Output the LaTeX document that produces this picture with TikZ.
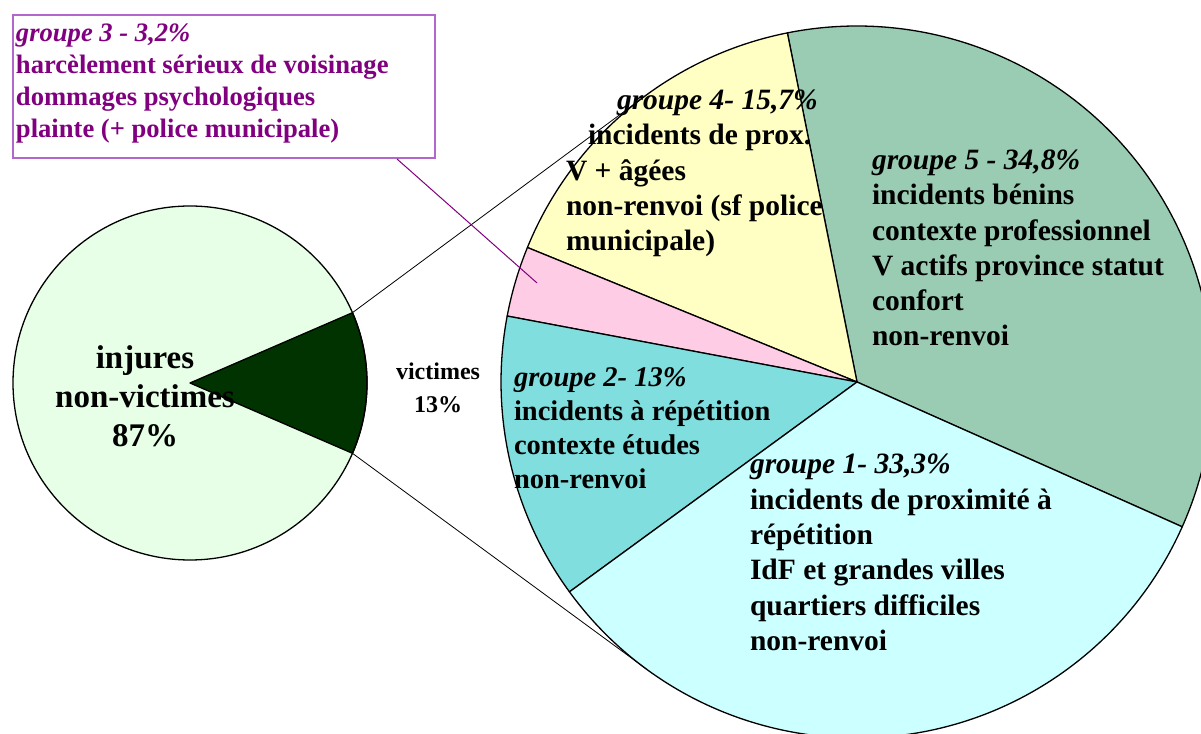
\documentclass[tikz,border=0pt]{standalone}
\usepackage{fontspec}
\setmainfont{Liberation Serif}
\usetikzlibrary{calc}
\definecolor{smallbg}{HTML}{E6FFE6}
\definecolor{smalldark}{HTML}{003300}
\definecolor{gOne}{HTML}{CCFFFF}
\definecolor{gTwo}{HTML}{80DEDE}
\definecolor{gThree}{HTML}{FFCCE6}
\definecolor{gFour}{HTML}{FFFFC4}
\definecolor{gFive}{HTML}{99CCB3}
\definecolor{boxline}{HTML}{B366CC}
\definecolor{boxtext}{HTML}{800080}
\tikzset{
  slice/.style={draw=black, line width=1.3pt, line join=round},
  link/.style={draw=black, line width=0.8pt},
  plink/.style={draw=boxtext, line width=1pt},
  lbl/.style={inner sep=0pt, outer sep=0pt, align=left, anchor=north west,
    font=\bfseries\fontsize{29.5}{35.2}\selectfont},
}
\begin{document}
\begin{tikzpicture}[x=1pt,y=1pt]
\useasboundingbox (0,0) rectangle (1201,733);
\clip (0,0) rectangle (1201,733);

% small pie
\coordinate (sc) at (190,350);
\fill[smallbg] (sc) circle (177);
\filldraw[fill=smalldark, slice] (sc) -- ++(-23.4:177) arc (-23.4:23.4:177) -- cycle;
\draw[slice] (sc) circle (177);
\coordinate (vt) at ($(sc)+(23.4:177)$);
\coordinate (vb) at ($(sc)+(-23.4:177)$);

% big pie
\coordinate (bc) at (857,351);
\node[circle, minimum size=712pt, inner sep=0pt, outer sep=0pt] (bigpie) at (bc) {};
\foreach \a/\b/\c in {-24/101.28/gFive, 101.28/157.8/gFour, 157.8/169.32/gThree, 169.32/216.12/gTwo, 216.12/336/gOne}
  \filldraw[fill=\c, slice] (bc) -- ++(\a:356) arc (\a:\b:356) -- cycle;

% connectors (tangents)
\draw[link] (vt) -- (tangent cs:node=bigpie,point={(vt)},solution=2);
\draw[link] (vb) -- (tangent cs:node=bigpie,point={(vb)},solution=1);

% callout box
\node[draw=boxline, line width=2pt, fill=white, minimum width=422pt, minimum height=143pt,
  inner sep=0pt, anchor=north west] (callout) at (12,719) {};
\coordinate (pinkpt) at ($(bc)+(162.8:335)$);
\draw[plink] ($(callout.south east)+(-39,0)$) -- (pinkpt);
\node[lbl, text=boxtext, font=\bfseries\fontsize{26.6}{32}\selectfont] (t3) at (16,709)
  {\textit{groupe 3 - 3,2\%}\\harcèlement sérieux de voisinage\\dommages psychologiques\\plainte (+ police municipale)};

% labels
\node[lbl] (t4) at (566,643)
  {\hspace*{51pt}\textit{groupe 4- 15,7\%}\\\hspace*{22pt}incidents de prox.\\V + âgées\\non-renvoi (sf police\\municipale)};
\node[lbl] (t5) at (872,583)
  {\textit{groupe 5 - 34,8\%}\\incidents bénins\\contexte professionnel\\V actifs province statut\\confort\\non-renvoi};
\node[lbl, font=\bfseries\fontsize{28.5}{34}\selectfont] (t2) at (514,365)
  {\textit{groupe 2- 13\%}\\incidents à répétition\\contexte études\\non-renvoi};
\node[lbl, font=\bfseries\fontsize{29.5}{35.4}\selectfont] (t1) at (750,279)
  {\textit{groupe 1- 33,3\%}\\incidents de proximité à\\répétition\\IdF et grandes villes\\quartiers difficiles\\non-renvoi};
\node[inner sep=0pt, align=center, anchor=north, font=\bfseries\fontsize{33}{39}\selectfont] (tnv) at (145,388)
  {injures\\non-victimes\\87\%};
\node[inner sep=0pt, align=center, anchor=north, font=\bfseries\fontsize{24}{33}\selectfont] (tv) at (438,370)
  {victimes\\13\%};
\end{tikzpicture}
\end{document}
